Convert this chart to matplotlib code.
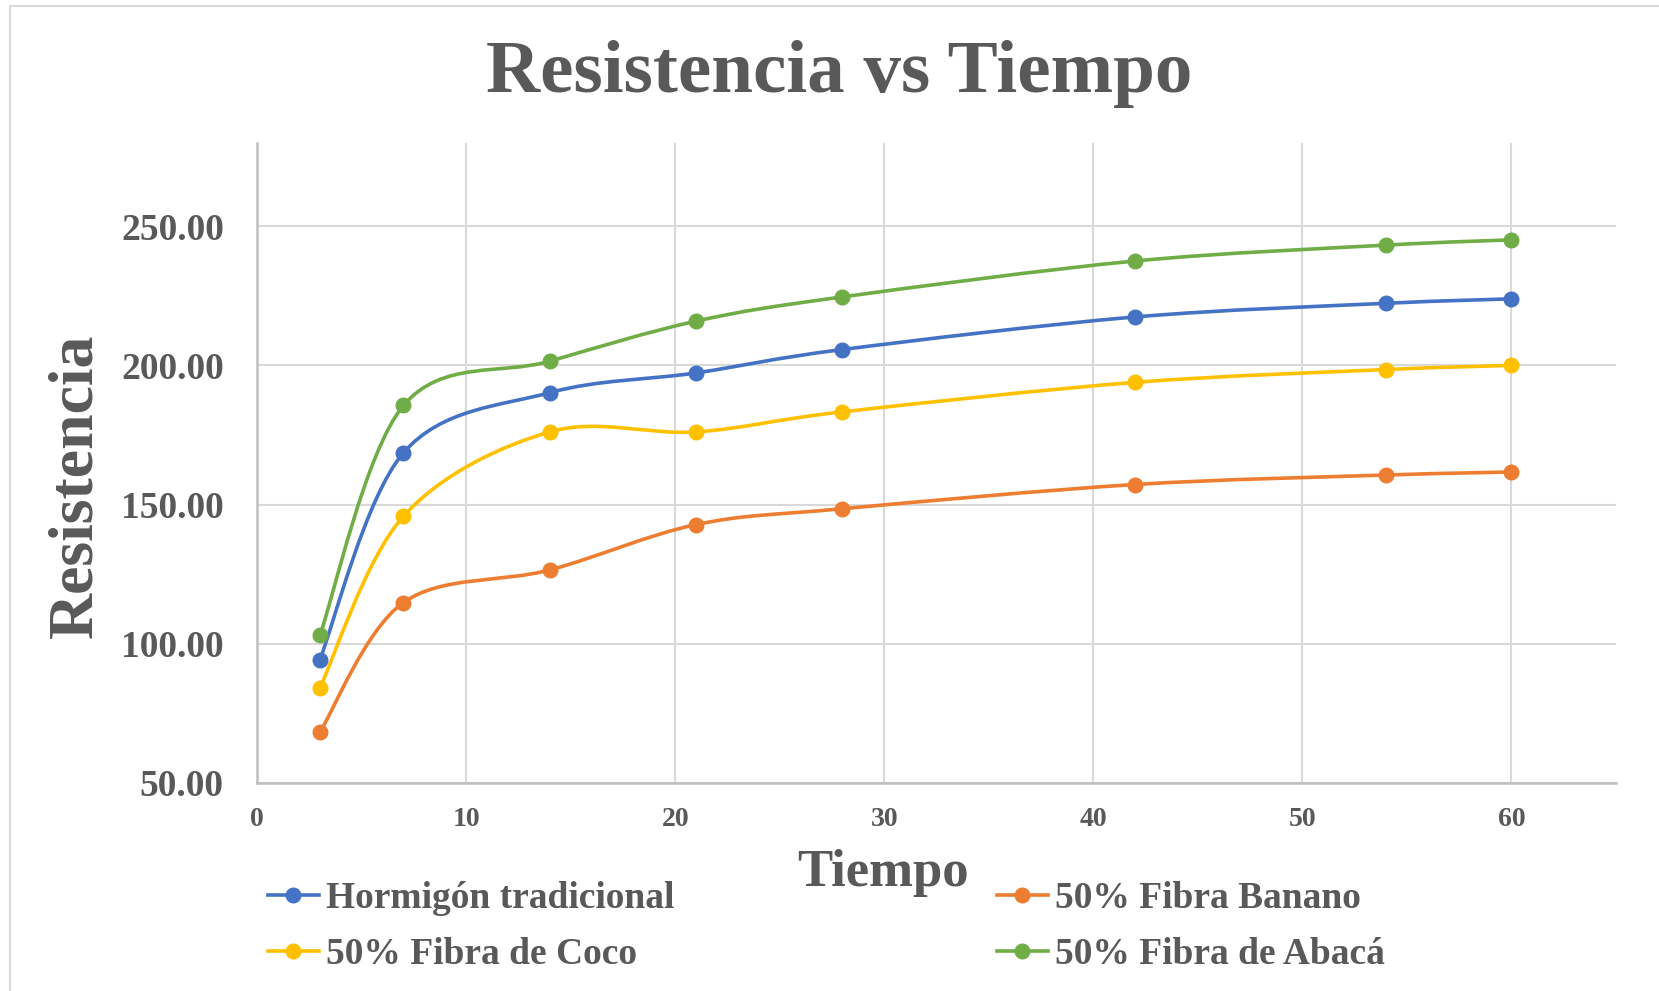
import matplotlib
matplotlib.use("Agg")
import matplotlib.pyplot as plt
import numpy as np
from matplotlib.path import Path
from matplotlib.patches import PathPatch, Rectangle
from matplotlib.lines import Line2D

# data
tiempo = [3, 7, 14, 21, 28, 42, 54, 60]
hormigon = [94.3, 168.6, 190.2, 197.3, 205.7, 217.4, 222.3, 223.9]
banano = [68.2, 114.8, 126.5, 142.8, 148.5, 157.2, 160.6, 161.7]
coco = [84.1, 145.8, 176.1, 176.1, 183.3, 193.9, 198.5, 200.0]
abaca = [103.0, 185.6, 201.5, 215.9, 224.6, 237.5, 243.2, 245.1]

series = [
    ("Hormigón tradicional", hormigon, "#4472C4"),
    ("50% Fibra Banano", banano, "#ED7D31"),
    ("50% Fibra de Coco", coco, "#FFC000"),
    ("50% Fibra de Abacá", abaca, "#70AD47"),
]

TXT = "#595959"
SERIF = ["Liberation Serif", "DejaVu Serif"]


def smooth_path(x, y):
    # Excel-like smoothed line: cubic Bezier, Catmull-Rom control points
    pts = np.column_stack([x, y]).astype(float)
    n = len(pts)
    verts = [pts[0]]
    codes = [Path.MOVETO]
    for i in range(n - 1):
        p0 = pts[i - 1] if i > 0 else pts[i]
        p1 = pts[i]
        p2 = pts[i + 1]
        p3 = pts[i + 2] if i + 2 < n else pts[i + 1]
        c1 = p1 + (p2 - p0) / 6.0
        c2 = p2 - (p3 - p1) / 6.0
        verts += [c1, c2, p2]
        codes += [Path.CURVE4] * 3
    return Path(verts, codes)


fig = plt.figure(figsize=(16.59, 9.91), dpi=100)
ax = fig.add_axes([0.155, 0.210, 0.819, 0.646])

for name, vals, col in series:
    ax.add_patch(PathPatch(smooth_path(tiempo, vals), fill=False,
                           edgecolor=col, linewidth=2.6, capstyle="round",
                           joinstyle="round", zorder=3))
    ax.plot(tiempo, vals, linestyle="none", marker="o", markersize=10.5,
            color=col, zorder=4)

ax.set_xlim(0, 65)
ax.set_ylim(50, 280)
ax.set_xticks(range(0, 61, 10))
ax.set_yticks(range(50, 251, 50))
ax.set_yticklabels([f"{v:.2f}" for v in range(50, 251, 50)])
ax.grid(True, color="#D9D9D9", linewidth=1.5)
ax.set_axisbelow(True)
for s in ("top", "right"):
    ax.spines[s].set_visible(False)
for s in ("left", "bottom"):
    ax.spines[s].set_color("#BFBFBF")
    ax.spines[s].set_linewidth(1.8)
ax.tick_params(axis="both", length=0, colors=TXT)
ax.tick_params(axis="y", pad=24)
ax.tick_params(axis="x", pad=17)
for lab in ax.get_yticklabels():
    lab.set_fontfamily(SERIF)
    lab.set_fontweight("bold")
    lab.set_fontsize(27)
for lab in ax.get_xticklabels():
    lab.set_fontfamily(SERIF)
    lab.set_fontweight("bold")
    lab.set_fontsize(20)

fig.text(0.506, 1 - 74 / 991, "Resistencia vs Tiempo", ha="center", va="center",
         fontsize=54, fontweight="bold", family=SERIF, color=TXT)
fig.text(76 / 1659, 1 - 486 / 991, "Resistencia", ha="center", va="center",
         rotation=90, fontsize=46, fontweight="bold", family=SERIF, color=TXT)
fig.text(883 / 1659, 1 - 873 / 991, "Tiempo", ha="center", va="center",
         fontsize=38, fontweight="bold", family=SERIF, color=TXT)

handles = [Line2D([], [], color=c, linewidth=2.6, marker="o", markersize=10.5)
           for _, _, c in series]
labels = [n for n, _, _ in series]
# order so column 1 = Hormigón / Coco, column 2 = Banano / Abacá
order = [0, 2, 1, 3]
leg = fig.legend([handles[i] for i in order], [labels[i] for i in order],
                 loc="upper left", bbox_to_anchor=(268 / 1659, 1 - 881 / 991),
                 ncol=2, frameon=False, borderpad=0, borderaxespad=0,
                 handlelength=1.35, handletextpad=0.2, columnspacing=8.6,
                 labelspacing=0.55,
                 prop={"family": SERIF, "weight": "bold", "size": 27})
for t in leg.get_texts():
    t.set_color(TXT)

# thin chart border as in the spreadsheet export
fig.patches.append(Rectangle((10 / 1659, -0.05), 1.2, 1 - 6 / 991 + 0.05,
                             transform=fig.transFigure, fill=False,
                             edgecolor="#D9D9D9", linewidth=1.5))

fig.savefig("out.png", dpi=100)
